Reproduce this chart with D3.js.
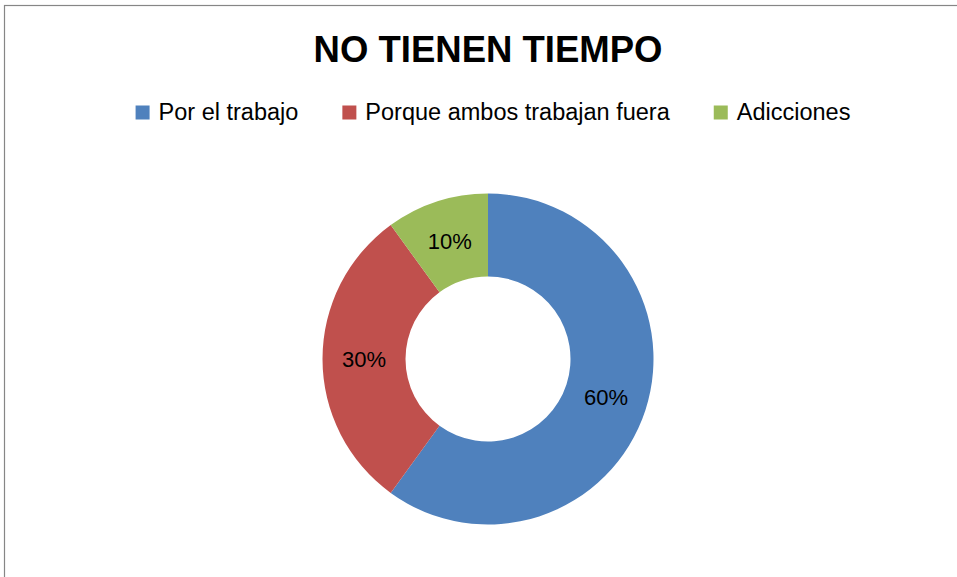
<!DOCTYPE html>
<html>
<head>
<meta charset="utf-8">
<script src="https://cdn.jsdelivr.net/npm/d3@7"></script>
<style>
	body { margin: 0; background: #fff; }
	text { font-family: "Liberation Sans", Arial, sans-serif; }
</style>
</head>
<body>
<div id="chart"></div>
<script>
// chart data
const title = "NO TIENEN TIEMPO";
const categories = ["Por el trabajo", "Porque ambos trabajan fuera", "Adicciones"];
const values = [60, 30, 10];
const colors = ["#4F81BD", "#C0504D", "#9BBB59"];

const canvas_width = 957;
const canvas_height = 577;

const svg = d3.select("#chart")
	.append("svg")
		.attr("width", canvas_width)
		.attr("height", canvas_height);

// chart area border (only left and top are in view)
svg.append("rect")
	.attr("x", 4.5)
	.attr("y", 5.5)
	.attr("width", canvas_width + 20)
	.attr("height", canvas_height + 20)
	.attr("fill", "none")
	.attr("stroke", "#868686")
	.attr("stroke-width", 1.2);

// title
svg.append("text")
	.attr("x", 488)
	.attr("y", 62)
	.attr("text-anchor", "middle")
	.attr("font-size", 36.5)
	.attr("font-weight", "bold")
	.attr("fill", "#000")
	.text(title);

// legend, laid out from the measured text widths
const legend = svg.append("g");
const sw = 14, textGap = 9, itemGap = 44;
let cursor = 0;
categories.forEach((c, i) => {
	const item = legend.append("g").attr("transform", "translate(" + cursor + ",0)");
	item.append("rect")
		.attr("x", 0).attr("y", -14.5)
		.attr("width", sw).attr("height", sw)
		.attr("fill", colors[i]);
	const t = item.append("text")
		.attr("x", sw + textGap)
		.attr("y", 0)
		.attr("font-size", 23.5)
		.attr("fill", "#000")
		.text(c);
	cursor += sw + textGap + t.node().getComputedTextLength() + itemGap;
});
const legendWidth = cursor - itemGap;
legend.attr("transform", "translate(" + (493 - legendWidth / 2) + ",120)");

// donut
const cx = 488, cy = 359, outerR = 165.5, innerR = 82.5;
const pie = d3.pie().sort(null).value(d => d);
const arc = d3.arc().innerRadius(innerR).outerRadius(outerR);
const total = d3.sum(values);

const g = svg.append("g").attr("transform", "translate(" + cx + "," + cy + ")");
const arcs = pie(values);

g.selectAll("path")
	.data(arcs)
	.join("path")
		.attr("d", arc)
		.attr("fill", (d, i) => colors[i]);

g.selectAll("text.lbl")
	.data(arcs)
	.join("text")
		.attr("class", "lbl")
		.attr("transform", d => "translate(" + arc.centroid(d) + ")")
		.attr("text-anchor", "middle")
		.attr("dy", "0.36em")
		.attr("font-size", 22)
		.attr("fill", "#000")
		.text(d => Math.round(d.value / total * 100) + "%");
</script>
</body>
</html>
